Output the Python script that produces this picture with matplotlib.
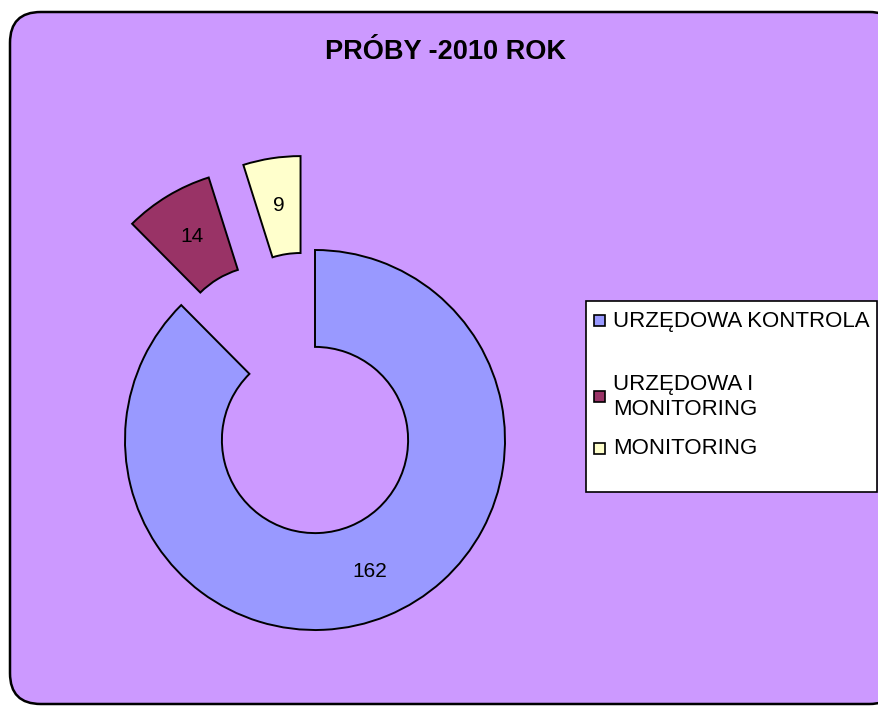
import matplotlib.pyplot as plt
import matplotlib
from matplotlib.patches import FancyBboxPatch, Rectangle
matplotlib.rc('font', family=['Liberation Sans', 'DejaVu Sans'])

# data
categories = ['URZĘDOWA KONTROLA', 'URZĘDOWA I\nMONITORING', 'MONITORING']
values = [162, 14, 9]
colors = ['#9999FF', '#993366', '#FFFFCC']
title = 'PRÓBY -2010 ROK'

W, H = 879, 706
fig = plt.figure(figsize=(W/100, H/100), dpi=100)
fig.patch.set_facecolor('white')

def fx(px):
	return px/W

def fy(py):
	return 1 - py/H

# rounded purple background
bg = FancyBboxPatch((fx(10), fy(704)), fx(900) - fx(10), fy(12) - fy(704),
	boxstyle='round,pad=0,rounding_size=0.035', transform=fig.transFigure,
	facecolor='#CC99FF', edgecolor='black', linewidth=1.8, mutation_aspect=W/H, zorder=-5)
fig.patches.append(bg)

# donut
cx, cy, R, half = 315, 440, 190, 290
ax = fig.add_axes([fx(cx-half), fy(cy+half), 2*half/W, 2*half/H])
ax.set_zorder(1)
total = sum(values)
wedges, texts, autotexts = ax.pie(values, colors=colors, startangle=90, counterclock=False,
	explode=[0, 0.5, 0.5], radius=1,
	wedgeprops=dict(width=0.51, edgecolor='black', linewidth=1.4),
	autopct=lambda p: '%d' % round(p*total/100), pctdistance=0.75,
	textprops=dict(fontsize=15, color='black'))
lim = half/R
ax.set_xlim(-lim, lim)
ax.set_ylim(-lim, lim)
ax.set_aspect('equal')
ax.axis('off')

fig.text(fx(446), fy(52), title, ha='center', va='center', fontsize=19.5, weight='bold', zorder=5)

# legend
fig.patches.append(Rectangle((fx(586), fy(492)), fx(877)-fx(586), fy(301)-fy(492),
	transform=fig.transFigure, facecolor='white', edgecolor='black', linewidth=1.2, zorder=4))
ys = [321, 397, 449]
for lab, col, y in zip(categories, colors, ys):
	fig.patches.append(Rectangle((fx(594), fy(y+5)), fx(11), 11/H, transform=fig.transFigure,
		facecolor=col, edgecolor='black', linewidth=1.2, zorder=5))
	fig.text(fx(613), fy(y), lab, ha='left', va='center', fontsize=16, linespacing=1.25, zorder=6)

plt.savefig('out.png', dpi=100)
